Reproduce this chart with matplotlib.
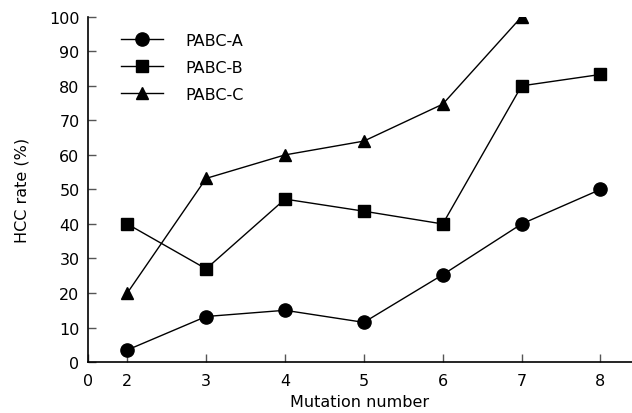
import matplotlib.pyplot as plt

mutation = [2, 3, 4, 5, 6, 7, 8]
pabc_a = [3.5, 13.2, 15.0, 11.5, 25.3, 40.0, 50.0]
pabc_b = [40.0, 27.0, 47.2, 43.7, 40.0, 80.0, 83.3]
pabc_c_x = [2, 3, 4, 5, 6, 7]
pabc_c = [20.0, 53.2, 60.0, 64.0, 74.7, 100.0]

xtick_pos = [1.5, 2, 3, 4, 5, 6, 7, 8]
xtick_lab = ["0", "2", "3", "4", "5", "6", "7", "8"]

plt.rcParams['font.family'] = ['DejaVu Sans']
fig = plt.figure(figsize=(6.32, 4.14), dpi=100)
ax = fig.add_axes([0.139, 0.123, 0.861, 0.834])

ax.plot(mutation, pabc_a, color='black', lw=1, marker='o', ms=9.5, label='PABC-A')
ax.plot(mutation, pabc_b, color='black', lw=1, marker='s', ms=8.5, label='PABC-B')
ax.plot(pabc_c_x, pabc_c, color='black', lw=1, marker='^', ms=9, label='PABC-C')

ax.set_xlim(1.5, 8.4)
ax.set_ylim(0, 100)
ax.set_xticks(xtick_pos)
ax.set_xticklabels(xtick_lab)
ax.set_yticks(range(0, 101, 10))
ax.tick_params(direction='in', length=6, width=1, labelsize=11.5, color='#555555')
ax.tick_params(axis='x', pad=8)
ax.tick_params(axis='y', pad=6)
for s in ['top', 'right']:
    ax.spines[s].set_visible(False)
for s in ['left', 'bottom']:
    ax.spines[s].set_linewidth(1.2)

ax.set_xlabel('Mutation number', fontsize=11.5, labelpad=4)
ax.set_ylabel('HCC rate (%)', fontsize=11.5, labelpad=14)

ax.legend(loc='upper left', bbox_to_anchor=(0.035, 0.995), frameon=False,
          fontsize=11.5, handlelength=2.6, handletextpad=1.4, labelspacing=0.75)

fig.savefig('out.png', dpi=100)
